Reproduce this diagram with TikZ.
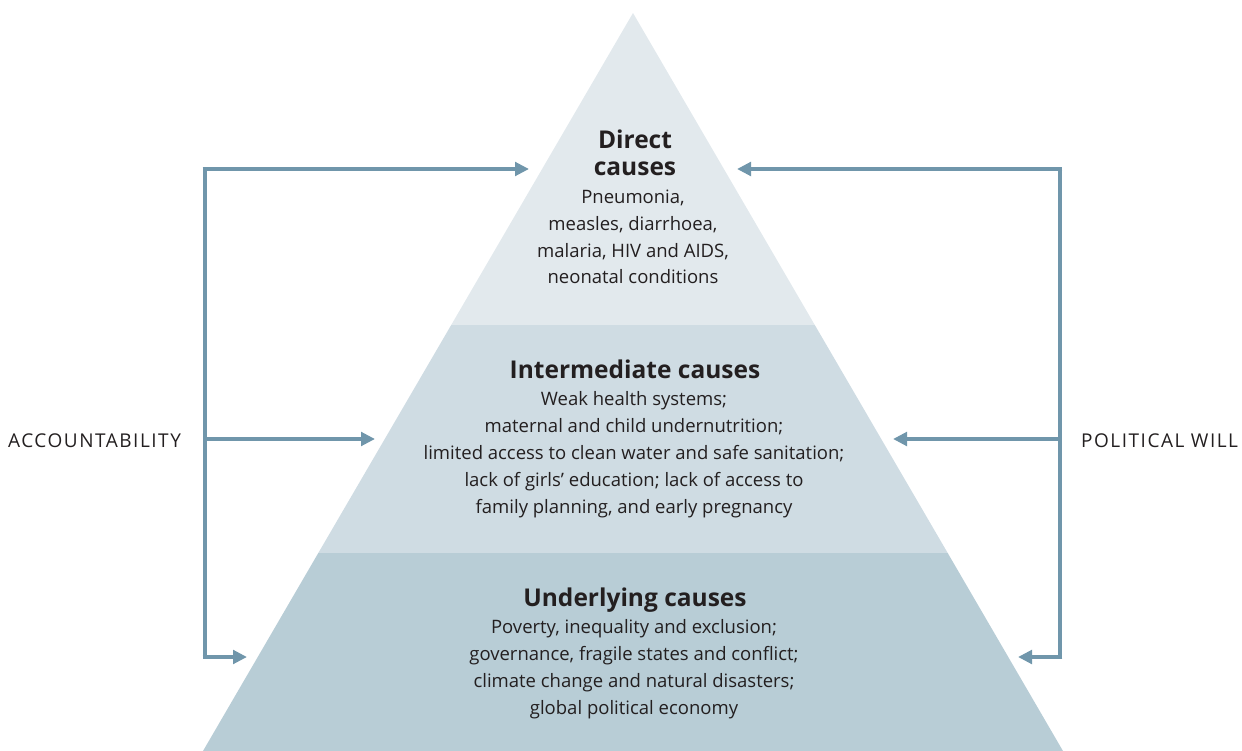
\documentclass[tikz,border=0pt]{standalone}
\usepackage{fontspec}
\setmainfont{Open Sans}
\newfontfamily\labfont{Open Sans}[LetterSpace=8]
\usetikzlibrary{arrows.meta}
\definecolor{arrowc}{HTML}{7096AB}
\definecolor{bandA}{HTML}{E2E9ED}
\definecolor{bandB}{HTML}{CFDCE3}
\definecolor{bandC}{HTML}{B8CDD6}
\definecolor{ink}{HTML}{231F20}
\tikzset{
  conn/.style={draw=arrowc, line width=4.8pt, -{Triangle[length=14pt,width=13.5pt]}},
  rail/.style={draw=arrowc, line width=4.8pt},
  ttl/.style={font=\fontsize{24.5}{27}\selectfont\bfseries, text=ink, align=center, inner sep=0pt, anchor=base},
  body/.style={font=\fontsize{18.5}{27}\selectfont, text=ink, align=center, inner sep=0pt, anchor=base},
  side/.style={font=\labfont\fontsize{19}{27}\selectfont, text=ink, inner sep=0pt, anchor=base west},
}
\begin{document}
\begin{tikzpicture}[x=1pt,y=-1pt]
\useasboundingbox (0,0) rectangle (1242,751);
% pyramid
\coordinate (apex) at (633,13);
\coordinate (bl) at (203,751);
\coordinate (br) at (1063,751);
\coordinate (m1l) at (451.2,325);
\coordinate (m1r) at (814.8,325);
\coordinate (m2l) at (318.3,553);
\coordinate (m2r) at (947.7,553);
\fill[bandA] (apex) -- (m1r) -- (m1l) -- cycle;
\fill[bandB] (m1l) -- (m1r) -- (m2r) -- (m2l) -- cycle;
\fill[bandC] (m2l) -- (m2r) -- (br) -- (bl) -- cycle;
% texts (anchor base = baseline of last line)
\node[ttl] (dt) at (635,176) {Direct\\causes};
\node[body] (db) at (633,284) {Pneumonia,\\measles, diarrhoea,\\malaria, HIV and AIDS,\\neonatal conditions};
\node[ttl] (it) at (635,378) {Intermediate causes};
\node[body] (ib) at (634,513) {Weak health systems;\\maternal and child undernutrition;\\limited access to clean water and safe sanitation;\\lack of girls’ education; lack of access to\\family planning, and early pregnancy};
\node[ttl] (ut) at (635,606) {Underlying causes};
\node[body] (ub) at (634,714) {Poverty, inequality and exclusion;\\governance, fragile states and conflict;\\climate change and natural disasters;\\global political economy};
\node[side] (acc) at (8,447) {ACCOUNTABILITY};
\node[side] (pw) at (1081,447) {POLITICAL WILL};
% left rail
\coordinate (lt) at (205,169);
\coordinate (lm) at (205,439);
\coordinate (lb) at (205,657);
\coordinate (lte) at (529,169);
\coordinate (lme) at (375,439);
\coordinate (lbe) at (247,657);
\draw[rail] (lb) -- (lt);
\draw[conn] ([xshift=-2.4pt]lt) -- (lte);
\draw[conn] (lm) -- (lme);
\draw[conn] ([xshift=-2.4pt]lb) -- (lbe);
% right rail
\coordinate (rt) at (1060,169);
\coordinate (rm) at (1060,439);
\coordinate (rb) at (1060,657);
\coordinate (rte) at (737,169);
\coordinate (rme) at (893,439);
\coordinate (rbe) at (1018,657);
\draw[rail] (rb) -- (rt);
\draw[conn] ([xshift=2.4pt]rt) -- (rte);
\draw[conn] (rm) -- (rme);
\draw[conn] ([xshift=2.4pt]rb) -- (rbe);
\end{tikzpicture}
\end{document}
